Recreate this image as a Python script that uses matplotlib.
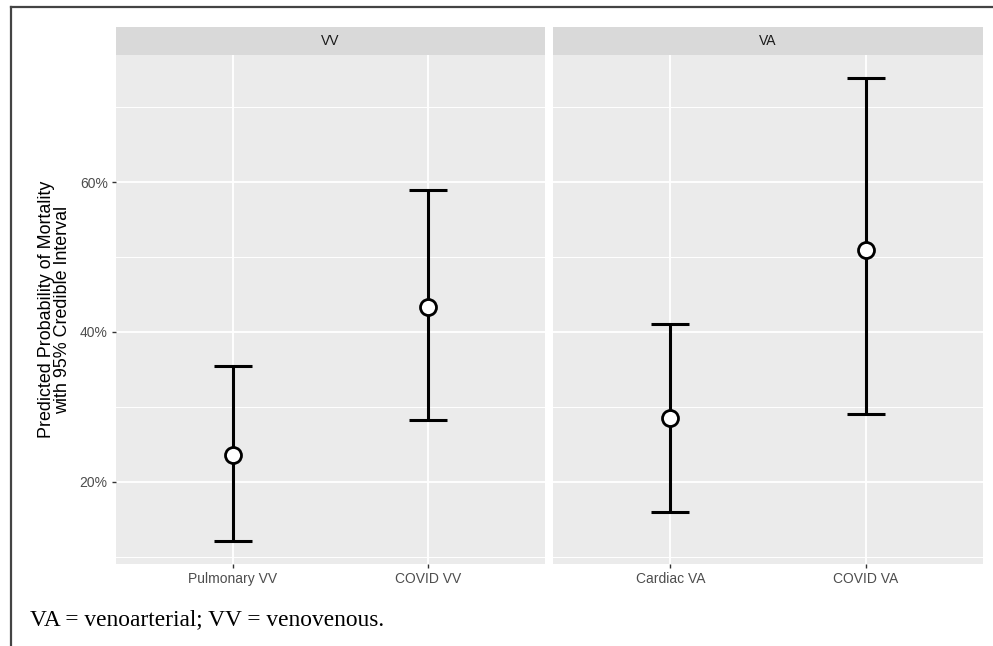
import numpy as np
import matplotlib.pyplot as plt
from matplotlib.lines import Line2D

# DATA
panels = ['VV', 'VA']
labels = [['Pulmonary VV', 'COVID VV'], ['Cardiac VA', 'COVID VA']]
estimate = [[23.6, 43.4], [28.5, 50.9]]
lower = [[12.1, 28.3], [16.0, 29.1]]
upper = [[35.4, 58.9], [41.1, 73.9]]
yticks = [20, 40, 60]
ytick_labels = ['20%', '40%', '60%']

plt.rcParams['font.family'] = ['Liberation Sans', 'DejaVu Sans']

fig = plt.figure(figsize=(9.93, 6.46), dpi=100)
W, H = 993, 646

# y range with ggplot-like 5% expansion
lo_all = min(min(l) for l in lower)
hi_all = max(max(u) for u in upper)
pad = (hi_all - lo_all) * 0.05
ylim = (lo_all - pad, hi_all + pad)

panel_x = [(116, 545), (553, 983)]
top_px, bot_px, strip_top = 55, 564, 27

for i, name in enumerate(panels):
    x0, x1 = panel_x[i]
    ax = fig.add_axes([x0 / W, 1 - bot_px / H, (x1 - x0) / W, (bot_px - top_px) / H])
    ax.set_facecolor('#EBEBEB')
    for s in ax.spines.values():
        s.set_visible(False)
    xs = np.arange(len(labels[i])) + 1
    ax.set_xlim(0.4, len(labels[i]) + 0.6)
    ax.set_ylim(*ylim)

    # grid
    for y in np.arange(10, 80, 10):
        ax.axhline(y, color='white', lw=1.3 if y % 20 == 0 else 0.7, zorder=0)
    for x in xs:
        ax.axvline(x, color='white', lw=1.3, zorder=0)

    e = np.array(estimate[i])
    lo = np.array(lower[i])
    up = np.array(upper[i])
    ax.errorbar(xs, e, yerr=[e - lo, up - e], fmt='none', ecolor='black',
                elinewidth=2.2, capsize=14, capthick=2.2, zorder=2)
    ax.plot(xs, e, 'o', ms=11.5, mfc='white', mec='black', mew=2.0, zorder=3)

    ax.set_xticks(xs)
    ax.set_xticklabels(labels[i], fontsize=10, color='#4D4D4D')
    ax.tick_params(axis='x', length=3, color='#333333', width=1, pad=3)
    if i == 0:
        ax.set_yticks(yticks)
        ax.set_yticklabels(ytick_labels, fontsize=10, color='#4D4D4D')
        ax.tick_params(axis='y', length=3, color='#333333', width=1, pad=3)
        ax.set_ylabel('Predicted Probability of Mortality\nwith 95% Credible Interval',
                      fontsize=12.9, color='black', labelpad=6, linespacing=0.95)
    else:
        ax.set_yticks([])

    # facet strip
    sax = fig.add_axes([x0 / W, 1 - top_px / H, (x1 - x0) / W, (top_px - strip_top) / H])
    sax.set_facecolor('#D9D9D9')
    sax.set_xticks([])
    sax.set_yticks([])
    for s in sax.spines.values():
        s.set_visible(False)
    sax.text(0.5, 0.5, name, ha='center', va='center', fontsize=10, color='#1A1A1A',
             transform=sax.transAxes)

# caption
fig.text(30 / W, 1 - 625 / H, 'VA = venoarterial; VV = venovenous.',
         family=['Liberation Serif', 'DejaVu Serif'], fontsize=16.8, color='black',
         ha='left', va='baseline')

# outer frame (left and top edges)
fig.add_artist(Line2D([11 / W, 11 / W], [0, 1 - 7 / H], color='#444444', lw=1.6))
fig.add_artist(Line2D([11 / W, 1], [1 - 7 / H, 1 - 7 / H], color='#444444', lw=1.6))

fig.savefig('out.png', dpi=100)
